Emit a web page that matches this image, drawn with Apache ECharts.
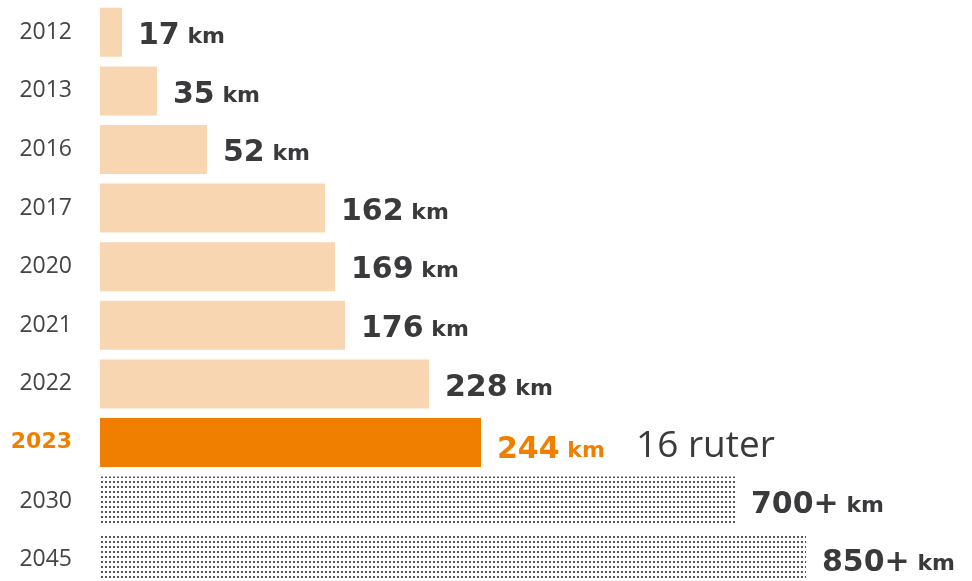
<!DOCTYPE html>
<html>
<head>
<meta charset="utf-8">
<style>
html,body{margin:0;padding:0;background:#fff;overflow:hidden;}
#c{width:972px;height:592px;}
</style>
<script src="https://cdn.jsdelivr.net/npm/echarts@6/dist/echarts.min.js"></script>
</head>
<body>
<div id="c"></div>
<script>
// Data
const years = ['2012','2013','2016','2017','2020','2021','2022','2023','2030','2045'];
// bar lengths as drawn (the drawing is not proportional to the km labels)
const barLengths = [22, 57, 107, 225, 235, 245, 329, 381, 635, 706];
const kmLabels = ['17','35','52','162','169','176','228','244','700+','850+'];
const notes = ['','','','','','','','16 ruter','',''];
const highlightYear = '2023';
const plannedYears = ['2030','2045'];

const PEACH = '#f8d6b2';
const ORANGE = '#f07f00';
const DARK = '#3a3a3d';

function dotPattern(){
  const c = document.createElement('canvas');
  c.width = 4; c.height = 5;
  const g = c.getContext('2d');
  g.fillStyle = '#ffffff';
  g.fillRect(0,0,4,5);
  g.fillStyle = '#555555';
  g.fillRect(1,1,2,2);
  return c;
}
const pattern = {image: dotPattern(), repeat: 'repeat'};

const seriesData = years.map((y, i) => {
  const isHi = y === highlightYear;
  const isPlan = plannedYears.indexOf(y) >= 0;
  return {
    value: barLengths[i],
    itemStyle: {color: isHi ? ORANGE : (isPlan ? pattern : PEACH)},
    label: {
      formatter: () => {
        let s = isHi ? '{hn|' + kmLabels[i] + '}{hu| km}' : '{n|' + kmLabels[i] + '}{u| km}';
        if (notes[i]) s += '{r|  ' + notes[i] + '}';
        return s;
      }
    }
  };
});

const chart = echarts.init(document.getElementById('c'), null, {renderer: 'canvas'});
const boldFont = '"DejaVu Sans", sans-serif';
chart.setOption({
  animation: false,
  grid: {left: 100, top: 3, width: 872, height: 586, containLabel: false},
  xAxis: {type: 'value', min: 0, max: 872, show: false},
  yAxis: {
    type: 'category',
    data: years,
    inverse: true,
    axisLine: {show: false},
    axisTick: {show: false},
    splitLine: {show: false},
    axisLabel: {
      margin: 28,
      formatter: v => v === highlightYear ? '{h|' + v + '}' : '{y|' + v + '}',
      rich: {
        y: {fontFamily: '"Open Sans", sans-serif', fontSize: 23, color: '#444446'},
        h: {fontFamily: boldFont, fontWeight: 'bold', fontSize: 22, color: ORANGE}
      }
    }
  },
  series: [{
    type: 'bar',
    data: seriesData,
    barWidth: 49,
    label: {
      show: true,
      position: 'right',
      distance: 16,
      offset: [0, 4],
      rich: {
        n: {fontFamily: boldFont, fontWeight: 'bold', fontSize: 30, color: DARK, verticalAlign: 'bottom', lineHeight: 30},
        u: {fontFamily: boldFont, fontWeight: 'bold', fontSize: 22, color: DARK, verticalAlign: 'bottom', lineHeight: 22, padding: [0, 0, 3, 0]},
        hn: {fontFamily: boldFont, fontWeight: 'bold', fontSize: 30, color: ORANGE, verticalAlign: 'bottom', lineHeight: 30},
        hu: {fontFamily: boldFont, fontWeight: 'bold', fontSize: 22, color: ORANGE, verticalAlign: 'bottom', lineHeight: 22, padding: [0, 0, 3, 0]},
        r: {fontFamily: '"Open Sans", sans-serif', fontSize: 37, color: DARK, verticalAlign: 'bottom', lineHeight: 37, padding: [0, 0, 0, 12]}
      }
    }
  }]
});
</script>
</body>
</html>
